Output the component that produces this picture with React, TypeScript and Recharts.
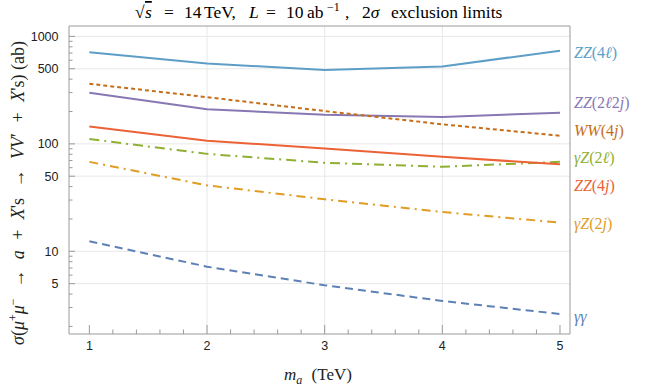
import React from 'react';
import { LineChart, Line, XAxis, YAxis, CartesianGrid, ReferenceArea } from 'recharts';

// ---------- data ----------
const massesTeV = [1, 2, 3, 4, 5];
const zz4l = [714, 561, 486, 526, 736];
const ww4j = [362, 272, 202, 152, 119];
const zz2l2j = [299, 210, 187, 178, 195];
const zz4j = [145, 107, 90.6, 75.8, 64.5];
const gz2l = [111, 80.7, 66.7, 61.2, 68];
const gz2j = [68, 41.1, 30.5, 23.2, 18.5];
const gammaGamma = [12.4, 7.2, 4.83, 3.45, 2.61];

const xMajorTicks = [1, 2, 3, 4, 5];
const xMinorTicks = [1.2, 1.4, 1.6, 1.8, 2.2, 2.4, 2.6, 2.8, 3.2, 3.4, 3.6, 3.8, 4.2, 4.4, 4.6, 4.8];
const yMajorTicks = [5, 10, 50, 100, 500, 1000];
const yMinorTicks = [2, 3, 4, 6, 7, 8, 9, 20, 30, 40, 60, 70, 80, 90, 200, 300, 400, 600, 700, 800, 900];
const xGridValues = [2, 3, 4];
const xDomain = [0.827, 5.085];
const yDomain = [1.7, 1250];

// label segments: [text, italic]
type Seg = [string, boolean];
const seriesLabels: Record<string, Seg[]> = {
  zz4l: [['ZZ', true], ['(4', false], ['ℓ', true], [')', false]],
  zz2l2j: [['ZZ', true], ['(2', false], ['ℓ', true], ['2', false], ['j', true], [')', false]],
  ww4j: [['WW', true], ['(4', false], ['j', true], [')', false]],
  gz2l: [['γZ', true], ['(2', false], ['ℓ', true], [')', false]],
  zz4j: [['ZZ', true], ['(4', false], ['j', true], [')', false]],
  gz2j: [['γZ', true], ['(2', false], ['j', true], [')', false]],
  gammaGamma: [['γγ', true]],
};

const data = massesTeV.map((m, i) => ({
  m,
  zz4l: zz4l[i],
  ww4j: ww4j[i],
  zz2l2j: zz2l2j[i],
  zz4j: zz4j[i],
  gz2l: gz2l[i],
  gz2j: gz2j[i],
  gammaGamma: gammaGamma[i],
}));

// ---------- styles ----------
const seriesStyle = [
  { key: 'gammaGamma', color: '#5E81B5', dash: '8 5', labelDy: 2 },
  { key: 'gz2j', color: '#E19C24', dash: '9 5 2 5', labelDy: 0.5 },
  { key: 'gz2l', color: '#8FB032', dash: '10 5 2 5', labelDy: -4 },
  { key: 'zz4j', color: '#EB6235', dash: undefined, labelDy: 21.5 },
  { key: 'zz2l2j', color: '#8778B3', dash: undefined, labelDy: -10.5 },
  { key: 'ww4j', color: '#C56E1A', dash: '4 3', labelDy: -5.5 },
  { key: 'zz4l', color: '#5D9EC7', dash: undefined, labelDy: 1.5 },
];

const SERIF = '"Liberation Serif", "Times New Roman", serif';
const SANS = '"Liberation Sans", Arial, sans-serif';
const FRAME = '#9a9a9a';
const Y_TICK_SIZE = 8;
const Y_TICK_MARGIN = 2;
const X_TICK_SIZE = 5;
const X_TICK_MARGIN = 2;

const YTick = (props: any) => {
  const { x, y, payload } = props;
  const v = payload.value;
  const axisX = x + Y_TICK_SIZE + Y_TICK_MARGIN;
  const major = yMajorTicks.includes(v);
  return (
    <g>
      <line x1={axisX} x2={axisX + (major ? 6 : 3.5)} y1={y} y2={y} stroke={FRAME} strokeWidth={1} />
      {major && (
        <text x={x - 0.5} y={y} dy="0.36em" textAnchor="end" fontFamily={SANS} fontSize={12.5} fill="#222">
          {v}
        </text>
      )}
    </g>
  );
};

const XTick = (props: any) => {
  const { x, y, payload } = props;
  const v = payload.value;
  const axisY = y - X_TICK_SIZE - X_TICK_MARGIN;
  const major = xMajorTicks.includes(v);
  return (
    <g>
      <line x1={x} x2={x} y1={axisY} y2={axisY - (major ? 9 : 4.5)} stroke={FRAME} strokeWidth={1} />
      {major && (
        <text x={x} y={y} dy="0.71em" textAnchor="middle" fontFamily={SANS} fontSize={12.5} fill="#222">
          {v}
        </text>
      )}
    </g>
  );
};

const makeEndLabel = (s: { key: string; color: string; labelDy: number }) => (props: any) => {
  const { cx, cy, index } = props;
  if (index !== massesTeV.length - 1) return <g key={`${s.key}-d${index}`} />;
  return (
    <text
      key={`${s.key}-lbl`}
      x={cx + 14}
      y={cy + s.labelDy}
      dy="0.35em"
      fill={s.color}
      fontFamily={SERIF}
      fontSize={16}
    >
      {seriesLabels[s.key].map(([t, it], i) => (
        <tspan key={i} fontStyle={it ? 'italic' : 'normal'}>
          {t}
        </tspan>
      ))}
    </text>
  );
};

const GAP = 6;

export default function App() {
  return (
    <div style={{ position: 'absolute', left: 0, top: 0, width: 664, height: 389, background: '#fff' }}>
      <LineChart
        width={664}
        height={389}
        data={data}
        margin={{ top: 26, right: 94, left: 0, bottom: 0 }}
      >
        <CartesianGrid
          stroke="#e8e8e8"
          strokeWidth={1}
          horizontalValues={yMajorTicks}
          verticalValues={xGridValues}
        />
        <XAxis
          dataKey="m"
          type="number"
          domain={xDomain}
          ticks={[...xMajorTicks, ...xMinorTicks].sort((a, b) => a - b)}
          interval={0}
          height={55}
          axisLine={false}
          tickLine={false}
          tickSize={X_TICK_SIZE}
          tickMargin={X_TICK_MARGIN}
          tick={<XTick />}
        />
        <YAxis
          type="number"
          scale="log"
          domain={yDomain}
          ticks={[...yMajorTicks, ...yMinorTicks].sort((a, b) => a - b)}
          interval={0}
          width={69}
          axisLine={false}
          tickLine={false}
          tickSize={Y_TICK_SIZE}
          tickMargin={Y_TICK_MARGIN}
          tick={<YTick />}
        />
        {seriesStyle.map((s) => (
          <Line
            key={s.key}
            dataKey={s.key}
            type="linear"
            stroke={s.color}
            strokeWidth={2}
            strokeDasharray={s.dash}
            dot={makeEndLabel(s)}
            activeDot={false}
            isAnimationActive={false}
          />
        ))}
        <ReferenceArea
          x1={xDomain[0]}
          x2={xDomain[1]}
          y1={yDomain[0]}
          y2={yDomain[1]}
          fill="none"
          fillOpacity={0}
          stroke={FRAME}
          strokeWidth={1}
        />
      </LineChart>
      <svg
        width={664}
        height={389}
        style={{ position: 'absolute', left: 0, top: 0, pointerEvents: 'none' }}
      >
        {/* title */}
        <text y={18} fontFamily={SERIF} fontSize={17.5} fill="#000">
          <tspan x={135}>√</tspan>
          <tspan x={145} fontStyle="italic" style={{ textDecoration: 'overline' }}>s</tspan>
          <tspan x={164}>=</tspan>
          <tspan x={184}>14</tspan>
          <tspan x={204}>TeV,</tspan>
          <tspan x={249} fontStyle="italic">L</tspan>
          <tspan x={266}>=</tspan>
          <tspan x={286}>10</tspan>
          <tspan x={307}>ab</tspan>
          <tspan x={327} dy={-7} fontSize={12}>−1</tspan>
          <tspan x={345} dy={7}>,</tspan>
          <tspan x={362}>2</tspan>
          <tspan fontStyle="italic">σ</tspan>
          <tspan x={391}>exclusion limits</tspan>
        </text>
        {/* x label */}
        <text x={318} y={380} textAnchor="middle" fontFamily={SERIF} fontSize={17} fill="#222">
          <tspan fontStyle="italic">m</tspan>
          <tspan dy={4} fontSize={12} fontStyle="italic">a</tspan>
          <tspan dy={-4} dx={5}> (TeV)</tspan>
        </text>
        {/* y label */}
        <text
          transform="rotate(-90)"
          x={-193}
          y={24}
          textAnchor="middle"
          fontFamily={SERIF}
          fontSize={18}
          fill="#222"
        >
          <tspan fontStyle="italic">σ</tspan>
          <tspan>(</tspan>
          <tspan fontStyle="italic">μ</tspan>
          <tspan dy={-7} fontSize={12}>+</tspan>
          <tspan dy={7} fontStyle="italic">μ</tspan>
          <tspan dy={-7} fontSize={12}>−</tspan>
          <tspan dy={7} dx={GAP}> → </tspan>
          <tspan dx={GAP} fontStyle="italic">a</tspan>
          <tspan dx={GAP}> + </tspan>
          <tspan dx={GAP} fontStyle="italic">X</tspan>
          <tspan>'s</tspan>
          <tspan dx={GAP}> → </tspan>
          <tspan dx={GAP} fontStyle="italic">VV</tspan>
          <tspan>′</tspan>
          <tspan dx={GAP}> + </tspan>
          <tspan dx={GAP} fontStyle="italic">X</tspan>
          <tspan>'s) (ab)</tspan>
        </text>
      </svg>
    </div>
  );
}
